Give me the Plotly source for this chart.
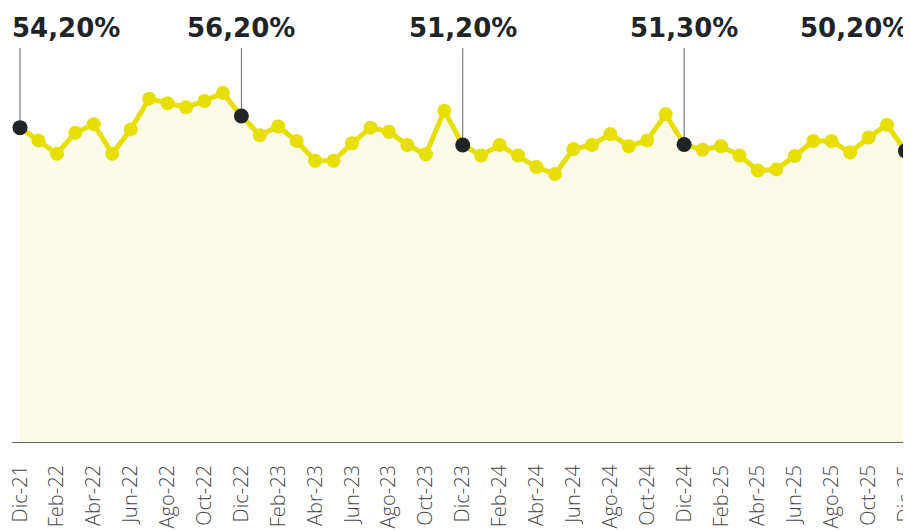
import plotly.graph_objects as go

months = ["Ene", "Feb", "Mar", "Abr", "May", "Jun", "Jul", "Ago", "Sep", "Oct", "Nov", "Dic"]
# Monthly series from Dic-21 to Dic-25
labels = ["Dic-21"] + [f"{m}-{y}" for y in ["22", "23", "24", "25"] for m in months]
values = [54.2,
          52.0, 49.7, 53.3, 54.8, 49.7, 53.9, 59.2, 58.4, 57.7, 58.8, 60.2, 56.2,
          52.9, 54.4, 51.9, 48.5, 48.5, 51.5, 54.2, 53.5, 51.2, 49.6, 57.1, 51.2,
          49.4, 51.2, 49.4, 47.4, 46.2, 50.5, 51.2, 53.1, 51.0, 52.0, 56.5, 51.3,
          50.4, 51.0, 49.4, 46.8, 47.0, 49.3, 51.9, 51.9, 49.9, 52.5, 54.7, 50.2]
highlight_labels = ["Dic-21", "Dic-22", "Dic-23", "Dic-24", "Dic-25"]
highlight_text = ["54,20%", "56,20%", "51,20%", "51,30%", "50,20%"]
tick_labels = labels[::2]

x = list(range(len(labels)))
hx = [labels.index(l) for l in highlight_labels]
hy = [values[i] for i in hx]

YELLOW = "#E6DF00"
FILL = "#FCFBE8"
DARK = "#212427"
YMAX = 70

fig = go.Figure()
fig.add_trace(go.Scatter(x=x, y=values, mode="lines+markers", fill="tozeroy",
                         fillcolor=FILL, line=dict(color=YELLOW, width=5),
                         marker=dict(color=YELLOW, size=14), hoverinfo="skip",
                         cliponaxis=False))
fig.add_trace(go.Scatter(x=hx, y=hy, mode="markers",
                         marker=dict(color=DARK, size=15), hoverinfo="skip",
                         cliponaxis=False))

line_top = 0.97 * YMAX
for k, (xi, yi, t) in enumerate(zip(hx, hy, highlight_text)):
    fig.add_shape(type="line", x0=xi, x1=xi, y0=yi, y1=line_top, xref="x", yref="y",
                  line=dict(color="#666666", width=1), layer="below")
    if k == 0:
        anchor, shift = "left", -10
    elif k == len(hx) - 1:
        anchor, shift = "right", 5
    else:
        anchor, shift = "center", 0
    fig.add_annotation(x=xi, y=1.0197, xref="x", yref="paper", text=f"<b>{t}</b>",
                       showarrow=False, xanchor=anchor, yanchor="middle", xshift=shift,
                       font=dict(family="DejaVu Sans", size=26, color=DARK))

fig.update_layout(
    width=911, height=524,
    margin=dict(l=4, r=8, t=28, b=90, autoexpand=False),
    paper_bgcolor="white", plot_bgcolor="white",
    showlegend=False,
    xaxis=dict(range=[-0.434, 48.3], tickmode="array", automargin=False,
               tickvals=[labels.index(l) for l in tick_labels], ticktext=tick_labels,
               tickangle=-90, showgrid=False, zeroline=False,
               showline=True, linecolor="#666666", linewidth=1, ticks="",
               ticklabelstandoff=14, ticklabeloverflow="allow",
               tickfont=dict(family="Open Sans", size=20,
                             color="#444444", weight=300)),
    yaxis=dict(range=[0, YMAX], visible=False, showgrid=False, zeroline=False,
               automargin=False),
)

fig.write_html("out.html")
